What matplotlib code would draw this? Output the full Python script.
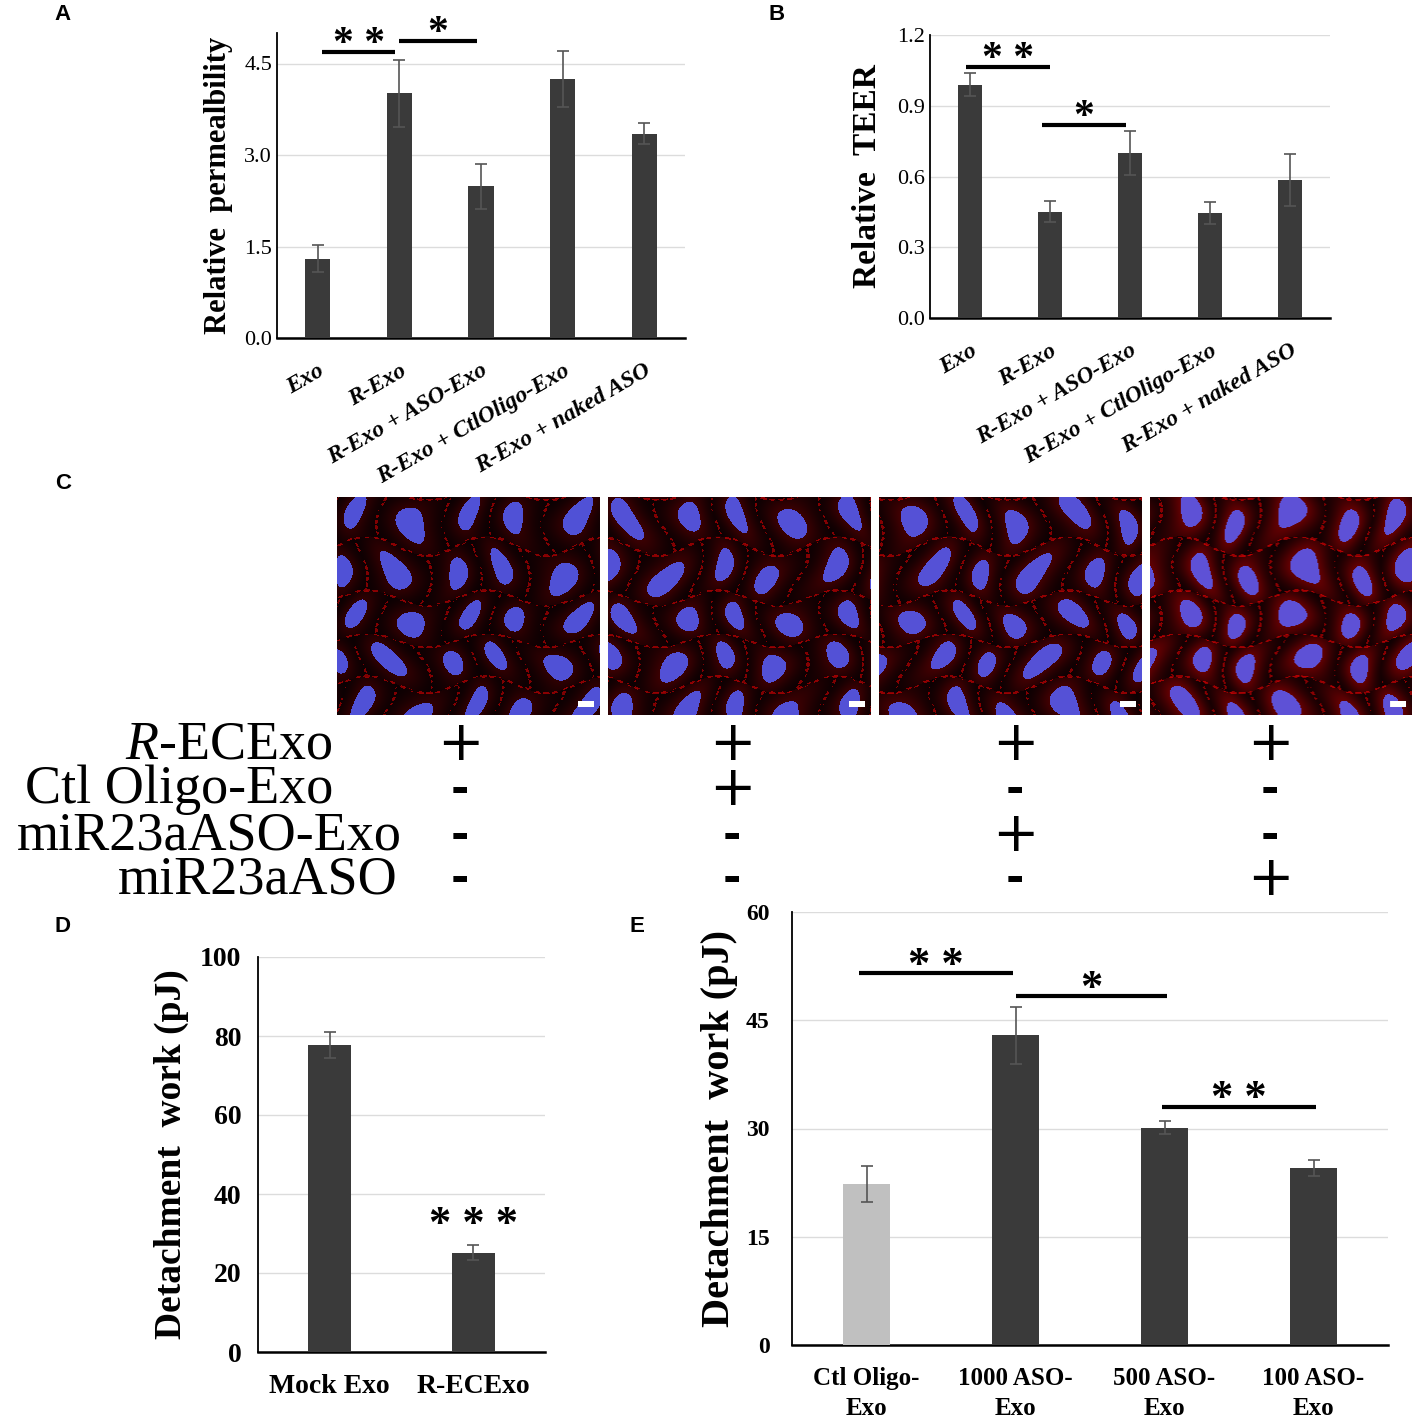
import numpy as np
import matplotlib.pyplot as plt

plt.rcParams['mathtext.fontset'] = 'custom'
plt.rcParams['mathtext.rm'] = 'Liberation Serif'
plt.rcParams['mathtext.it'] = 'Liberation Serif:italic'

W, H = 1412, 1419
SERIF = 'Liberation Serif'
BAR = '#3a3a3a'
GRID = '#dcdcdc'

# ---- data ----
a_labels = ['Exo', 'R-Exo', 'R-Exo + ASO-Exo', 'R-Exo + CtlOligo-Exo', 'R-Exo + naked ASO']
a_vals = [1.30, 4.01, 2.49, 4.24, 3.35]
a_err = [0.22, 0.55, 0.37, 0.46, 0.17]

b_labels = ['Exo', 'R-Exo', 'R-Exo + ASO-Exo', 'R-Exo + CtlOligo-Exo', 'R-Exo + naked ASO']
b_vals = [0.99, 0.45, 0.70, 0.445, 0.585]
b_err = [0.048, 0.045, 0.095, 0.048, 0.11]

d_labels = ['Mock Exo', 'R-ECExo']
d_vals = [77.8, 25.1]
d_err = [3.3, 1.9]

e_labels = ['Ctl Oligo-\nExo', '1000 ASO-\nExo', '500 ASO-\nExo', '100 ASO-\nExo']
e_vals = [22.3, 42.9, 30.1, 24.5]
e_err = [2.45, 3.9, 0.9, 1.1]
e_colors = ['#c0c0c0', BAR, BAR, BAR]

c_rows = [r'$\mathit{R}$-ECExo', 'Ctl Oligo-Exo', 'miR23aASO-Exo', 'miR23aASO']
c_table = [['+', '+', '+', '+'],
           ['-', '+', '-', '-'],
           ['-', '-', '+', '-'],
           ['-', '-', '-', '+']]

fig = plt.figure(figsize=(W / 100, H / 100), dpi=100)


def px_axes(l, t, r, b):
    return fig.add_axes([l / W, 1 - b / H, (r - l) / W, (b - t) / H])


def bar_panel(ax, vals, err, ylim, ticks, colors=BAR, width=0.31):
    x = np.arange(len(vals))
    ax.bar(x, vals, width=width, color=colors, zorder=3)
    ax.errorbar(x, vals, yerr=err, fmt='none', ecolor='#555555', elinewidth=1.2,
                capsize=4, capthick=1.2, zorder=4)
    ax.set_xlim(-0.5, len(vals) - 0.5)
    ax.set_ylim(*ylim)
    ax.set_yticks(ticks)
    ax.yaxis.grid(True, color=GRID, linewidth=1, zorder=0)
    ax.set_axisbelow(True)
    for s in ['top', 'right']:
        ax.spines[s].set_visible(False)
    ax.spines['left'].set_linewidth(1.3)
    ax.spines['bottom'].set_linewidth(1.8)
    ax.tick_params(length=0)
    return x


def sig(ax, x0, x1, y, text, size=30):
    ax.plot([x0, x1], [y, y], color='black', lw=3, solid_capstyle='butt', clip_on=False, zorder=5)
    ax.annotate(text, ((x0 + x1) / 2, y), xytext=(0, -9), textcoords='offset points',
                ha='center', va='bottom', fontsize=size, fontweight='bold',
                family=SERIF, annotation_clip=False)


# ---- A ----
axA = px_axes(277, 33, 685, 338)
xa = bar_panel(axA, a_vals, a_err, (0, 5.0), [0, 1.5, 3.0, 4.5])
axA.set_yticklabels(['0.0', '1.5', '3.0', '4.5'], family=SERIF, fontsize=16)
axA.set_xticks(xa)
axA.set_xticklabels(a_labels, rotation=30, ha='right', rotation_mode='anchor',
                    family=SERIF, fontsize=17, fontweight='bold', fontstyle='italic')
axA.tick_params(axis='x', pad=16)
axA.set_ylabel('Relative  permealbility', family=SERIF, fontsize=22, fontweight='bold', labelpad=8)
sig(axA, 0.05, 0.95, 4.69, '* *')
sig(axA, 1.0, 1.95, 4.87, '*')

# ---- B ----
axB = px_axes(930, 35, 1330, 318)
xb = bar_panel(axB, b_vals, b_err, (0, 1.2), [0, 0.3, 0.6, 0.9, 1.2])
axB.set_yticklabels(['0.0', '0.3', '0.6', '0.9', '1.2'], family=SERIF, fontsize=16)
axB.set_xticks(xb)
axB.set_xticklabels(b_labels, rotation=30, ha='right', rotation_mode='anchor',
                    family=SERIF, fontsize=17, fontweight='bold', fontstyle='italic')
axB.tick_params(axis='x', pad=16)
axB.set_ylabel('Relative  TEER', family=SERIF, fontsize=24, fontweight='bold', labelpad=10)
sig(axB, -0.05, 1.0, 1.065, '* *')
sig(axB, 0.9, 1.95, 0.82, '*')

# ---- C images (stained cell layer stand-in) ----
img_h, img_w = 218, 263
yy, xx = np.mgrid[0:img_h, 0:img_w].astype(float)
red_level = [0.22, 0.28, 0.32, 0.50]
for i, (l, r) in enumerate([(337, 600), (608, 871), (879, 1142), (1150, 1412)]):
    ax = px_axes(l, 497, r, 715)
    wx = xx + 9 * np.sin(yy / 17 + 1.3 * i) + 6 * np.sin(xx / 23 + i)
    wy = yy + 8 * np.sin(xx / 19 + 2.1 * i) + 5 * np.cos(yy / 29)
    sx, sy = 54.0, 48.0
    row = np.floor(wy / sy)
    u = ((wx + row * sx * 0.5) % sx) - sx / 2
    v = (wy % sy) - sy / 2
    rr = (u / 11.0) ** 2 + (v / 15.0) ** 2
    nuc = rr < 1
    mem = np.maximum(np.abs(u) / (sx / 2), np.abs(v) / (sy / 2)) > 0.95
    dots = (np.sin(xx * 0.7) + np.sin(yy * 1.1)) > 0.2
    red = 0.03 + red_level[i] * np.exp(-rr / 3.0) + 0.45 * (mem & dots)
    img = np.zeros((img_h, img_w, 3))
    img[..., 0] = np.clip(red, 0, 1)
    img[..., 2] = 0.01
    img[nuc] = [0.27 + 0.2 * red_level[i], 0.32, 0.84]
    img[-14:-8, -22:-6] = 1.0
    ax.imshow(img, aspect='auto', interpolation='bilinear')
    ax.set_xticks([])
    ax.set_yticks([])
    for s in ax.spines.values():
        s.set_visible(False)

# ---- C table ----
row_y = [745, 790, 836, 880]
row_right = [333, 333, 402, 398]
col_x = [460, 732, 1015, 1270]
for lab, y, xr, marks in zip(c_rows, row_y, row_right, c_table):
    fig.text(xr / W, 1 - y / H, lab, ha='right', va='center', family=SERIF, fontsize=39)
    for cx, m in zip(col_x, marks):
        if m == '+':
            fig.text(cx / W, 1 - y / H, '+', ha='center', va='center',
                     family='DejaVu Sans', fontsize=40)
        else:
            fig.text(cx / W, 1 - y / H, '-', ha='center', va='center',
                     family='DejaVu Sans', fontweight='bold', fontsize=32)

# ---- D ----
axD = px_axes(258, 957, 545, 1352)
xd = bar_panel(axD, d_vals, d_err, (0, 100), [0, 20, 40, 60, 80, 100], width=0.30)
axD.set_yticklabels(['0', '20', '40', '60', '80', '100'], family=SERIF, fontsize=20, fontweight='bold')
axD.set_xticks(xd)
axD.set_xticklabels(d_labels, family=SERIF, fontsize=20, fontweight='bold')
axD.tick_params(axis='x', pad=16)
axD.tick_params(axis='y', pad=12)
axD.set_ylabel('Detachment  work (pJ)', family=SERIF, fontsize=27, fontweight='bold', labelpad=8)
axD.annotate('* * *', (1, 27.0), ha='center', va='bottom', fontsize=32,
             fontweight='bold', family=SERIF)

# ---- E ----
axE = px_axes(792, 912, 1388, 1345)
xe = bar_panel(axE, e_vals, e_err, (0, 60), [0, 15, 30, 45, 60], colors=e_colors)
axE.set_yticklabels(['0', '15', '30', '45', '60'], family=SERIF, fontsize=17, fontweight='bold')
axE.set_xticks(xe)
axE.set_xticklabels(e_labels, family=SERIF, fontsize=18, fontweight='bold', linespacing=1.35)
axE.tick_params(axis='x', pad=16)
axE.tick_params(axis='y', pad=16)
axE.set_ylabel('Detachment  work (pJ)', family=SERIF, fontsize=29, fontweight='bold', labelpad=6)
sig(axE, -0.05, 0.98, 51.5, '* *', size=32)
sig(axE, 1.0, 2.02, 48.3, '*', size=32)
sig(axE, 1.98, 3.02, 33.0, '* *', size=32)

# ---- panel letters ----
for lab, x, y in [('A', 63, 15), ('B', 777, 15), ('C', 63, 483), ('D', 63, 927), ('E', 637, 927)]:
    fig.text(x / W, 1 - y / H, lab, ha='center', va='center', family='Liberation Sans',
             fontweight='bold', fontsize=16)

fig.savefig('out.png', dpi=100)
